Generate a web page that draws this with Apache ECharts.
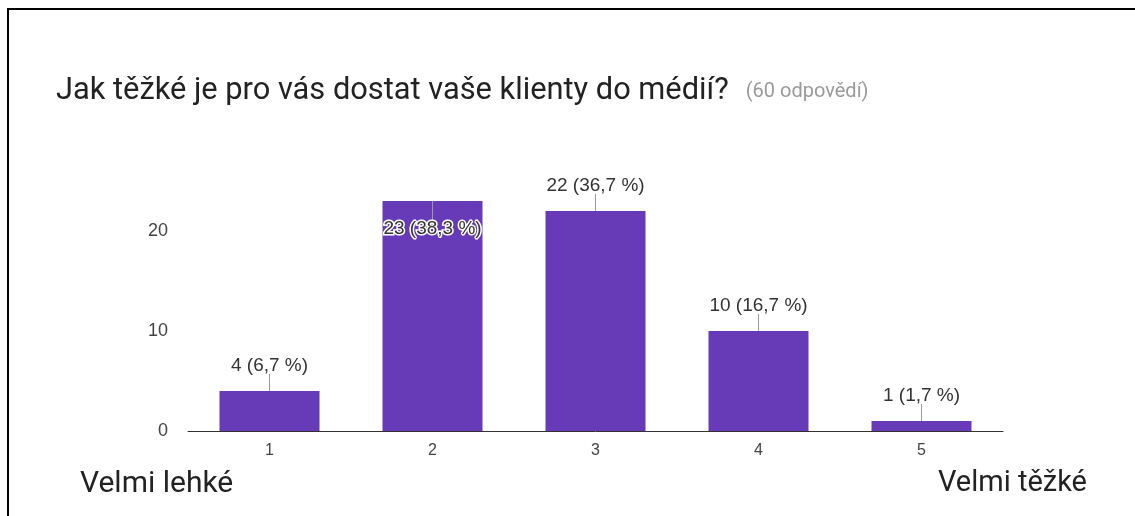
<!DOCTYPE html>
<html>
<head>
<meta charset="utf-8">
<script src="https://cdn.jsdelivr.net/npm/echarts@6/dist/echarts.min.js"></script>
<style>
  html, body { margin: 0; padding: 0; background: #fff; }
  .frame { position: absolute; left: 7px; top: 8px; width: 1128px; height: 508px;
           border-top: 2px solid #000; border-left: 2px solid #000; box-sizing: border-box; }
  #chart { position: absolute; left: 0; top: 0; width: 1135px; height: 516px; }
</style>
</head>
<body>
<div class="frame"></div>
<div id="chart"></div>
<script>
var titleText = 'Jak těžké je pro vás dostat vaše klienty do médií?';
var answersText = '(60 odpovědí)';
var categories = ['1', '2', '3', '4', '5'];
var counts = [4, 23, 22, 10, 1];
var yTicks = { min: 0, max: 25, interval: 10 };
var scaleLow = 'Velmi lehké';
var scaleHigh = 'Velmi těžké';

var total = counts.reduce(function (a, b) { return a + b; }, 0);
function pctLabel(v) {
  return v + ' (' + (v / total * 100).toFixed(1).replace('.', ',') + ' %)';
}

var myChart = echarts.init(document.getElementById('chart'));
var option = {
  animation: false,
  title: {
    left: 51,
    top: 71,
    text: '{a|' + titleText + '}{b|' + answersText + '}',
    textStyle: {
      fontWeight: 'normal',
      rich: {
        a: { fontFamily: 'Roboto', fontSize: 30.8, fontWeight: 'normal', color: '#222' },
        b: { fontFamily: 'Roboto', fontSize: 20, fontWeight: 'normal', color: '#9a9a9a', padding: [0, 0, 0, 17] }
      }
    }
  },
  grid: { left: 188, right: 132, top: 181, bottom: 85 },
  xAxis: {
    type: 'category',
    data: categories,
    axisTick: { show: false },
    axisLine: { lineStyle: { color: '#333', width: 1 } },
    axisLabel: { margin: 12, fontFamily: 'Liberation Sans', fontSize: 16, color: '#444' }
  },
  yAxis: {
    type: 'value',
    min: yTicks.min,
    max: yTicks.max,
    interval: yTicks.interval,
    splitLine: { show: false },
    axisLine: { show: false },
    axisLabel: { margin: 20, showMaxLabel: false, fontFamily: 'Liberation Sans', fontSize: 18, color: '#444' }
  },
  graphic: [
    { type: 'text', left: 80, top: 469, style: { text: scaleLow, font: '30px Roboto', fill: '#222' } },
    { type: 'text', right: 48, top: 469, style: { text: scaleHigh, font: '29px Roboto', fill: '#222' } }
  ],
  series: [
    {
      type: 'bar',
      data: counts,
      barWidth: 100,
      itemStyle: { color: '#673ab7' }
    },
    {
      type: 'custom',
      z: 10,
      data: counts.map(function (v, i) { return [i, v]; }),
      renderItem: function (params, api) {
        var v = api.value(1);
        var p = api.coord([api.value(0), v]);
        var inside = p[1] - 25 < params.coordSys.y;
        var lineEnd = inside ? p[1] + 19 : p[1] - 17;
        var textY = inside ? p[1] + 28 : p[1] - 25;
        return {
          type: 'group',
          children: [
            { type: 'line', shape: { x1: p[0], y1: p[1], x2: p[0], y2: lineEnd },
              style: { stroke: '#999', lineWidth: 1 } },
            { type: 'text', x: p[0], y: textY, z2: 5,
              style: { text: pctLabel(v), align: 'center', verticalAlign: 'middle',
                       font: '19px "Liberation Sans"', fill: '#333',
                       stroke: inside ? '#fff' : null, lineWidth: inside ? 3 : 0 } }
          ]
        };
      }
    }
  ]
};
myChart.setOption(option);
</script>
</body>
</html>
